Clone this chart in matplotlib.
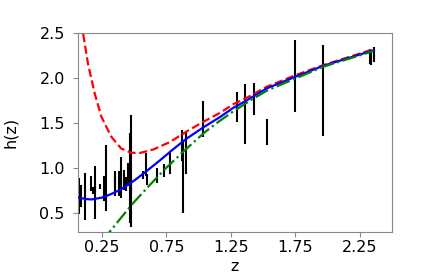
import matplotlib
matplotlib.use("Agg")
import matplotlib.pyplot as plt
import numpy as np

# Observational H(z) data (in units of 100 km/s/Mpc)
z_obs = [0.07, 0.09, 0.12, 0.17, 0.179, 0.199, 0.2, 0.24, 0.27, 0.28,
         0.35, 0.352, 0.3802, 0.4, 0.4004, 0.4247, 0.43, 0.44, 0.4497, 0.47,
         0.4783, 0.48, 0.57, 0.593, 0.6, 0.68, 0.73, 0.781, 0.875, 0.88,
         0.9, 1.037, 1.3, 1.363, 1.43, 1.53, 1.75, 1.965, 2.33, 2.34, 2.36]
h_obs = [0.69, 0.69, 0.686, 0.83, 0.75, 0.75, 0.729, 0.797, 0.77, 0.888,
         0.844, 0.83, 0.83, 0.95, 0.77, 0.871, 0.8645, 0.826, 0.928, 0.89,
         0.809, 0.97, 0.924, 1.04, 0.879, 0.92, 0.973, 1.05, 1.25, 0.90,
         1.17, 1.54, 1.68, 1.60, 1.77, 1.40, 2.02, 1.865, 2.24, 2.22, 2.26]
h_err = [0.196, 0.12, 0.262, 0.08, 0.04, 0.05, 0.296, 0.0265, 0.14, 0.366,
         0.07, 0.14, 0.135, 0.17, 0.102, 0.112, 0.0368, 0.078, 0.129, 0.496,
         0.09, 0.62, 0.045, 0.13, 0.061, 0.08, 0.07, 0.12, 0.17, 0.40,
         0.23, 0.20, 0.17, 0.336, 0.18, 0.14, 0.40, 0.504, 0.08, 0.07, 0.08]

# Model curves
z_blue = [0.066, 0.12, 0.17, 0.25, 0.32, 0.40, 0.50, 0.60, 0.70, 0.80,
          0.90, 1.04, 1.17, 1.27, 1.36, 1.53, 1.75, 1.97, 2.36]
h_blue = [0.675, 0.658, 0.652, 0.672, 0.71, 0.765, 0.86, 0.97, 1.085, 1.205,
          1.32, 1.455, 1.57, 1.67, 1.74, 1.886, 2.014, 2.137, 2.31]

z_red = [0.07, 0.105, 0.143, 0.195, 0.247, 0.324, 0.40, 0.478, 0.546, 0.65,
         0.779, 0.90, 1.037, 1.167, 1.27, 1.36, 1.53, 1.754, 1.968, 2.357]
h_red = [2.9, 2.497, 2.16, 1.83, 1.57, 1.348, 1.218, 1.17, 1.168, 1.207,
         1.29, 1.40, 1.514, 1.614, 1.71, 1.77, 1.904, 2.033, 2.144, 2.32]

z_green = [0.25, 0.31, 0.40, 0.495, 0.624, 0.74, 0.895, 1.05, 1.16, 1.27,
           1.40, 1.53, 1.754, 1.968, 2.357]
h_green = [0.19, 0.29, 0.45, 0.615, 0.815, 0.99, 1.20, 1.40, 1.52, 1.63,
           1.75, 1.86, 1.997, 2.126, 2.30]

x_ticks = [0.25, 0.75, 1.25, 1.75, 2.25]
y_ticks = [0.5, 1.0, 1.5, 2.0, 2.5]

fig = plt.figure(figsize=(4.36, 2.73), dpi=100)
ax = fig.add_axes([0.179, 0.150, 0.720, 0.729])

ax.errorbar(z_obs, h_obs, yerr=h_err, fmt='none', ecolor='black',
            elinewidth=1.5, capsize=0, zorder=2)
ax.plot(z_red, h_red, color='red', linestyle='--', linewidth=1.6, zorder=3)
ax.plot(z_blue, h_blue, color='blue', linestyle='-', linewidth=1.6, zorder=3)
ax.plot(z_green, h_green, color='green', linestyle='-.', linewidth=1.6, zorder=3)

ax.set_xlim(0.066, 2.5)
ax.set_ylim(0.29, 2.5)
ax.set_xticks(x_ticks)
ax.set_xticklabels(["%.2f" % v for v in x_ticks])
ax.set_yticks(y_ticks)
ax.set_yticklabels(["%.1f" % v for v in y_ticks])
ax.tick_params(labelsize=11.5, color='#888888', length=3.5, width=0.8)
ax.tick_params(axis='y', pad=6)
ax.tick_params(axis='x', pad=2.5)
for s in ax.spines.values():
    s.set_color('#888888')
    s.set_linewidth(0.8)
ax.set_xlabel('z', fontsize=11.5)
ax.set_ylabel('h(z)', fontsize=11.5)
ax.xaxis.set_label_coords(0.5, -0.135)
ax.yaxis.set_label_coords(-0.19, 0.5)

fig.savefig('out.png', dpi=100)
